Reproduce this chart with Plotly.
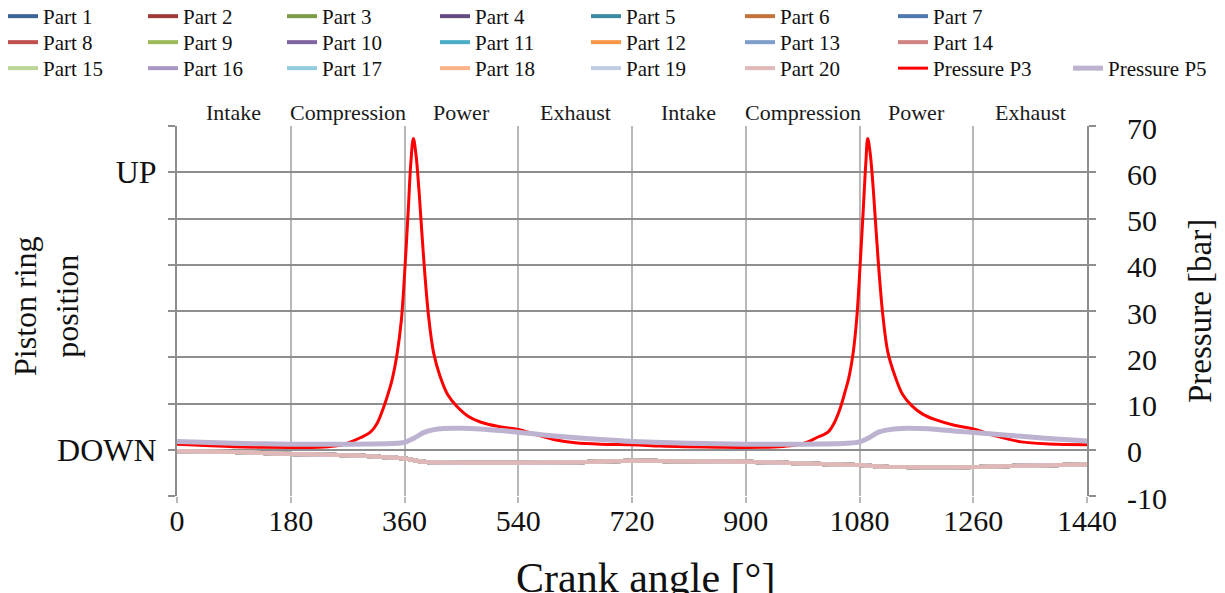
import plotly.graph_objects as go

# ---------------- data ----------------
crank_p3 = [0, 45, 90, 135, 180, 225, 250, 265, 275, 290, 306, 317, 327, 335, 341, 348, 355, 361, 366, 370, 374,
            378, 383, 390, 398, 406, 416, 428, 442, 460, 480, 510, 540, 570, 600, 630, 670, 720,
            765, 808, 855, 900, 945, 970, 985, 998, 1012, 1030, 1040, 1050, 1057, 1063, 1070, 1076, 1081, 1086, 1090, 1093,
            1097, 1102, 1109, 1117, 1125, 1136, 1148, 1163, 1180, 1200, 1230, 1260, 1295, 1336, 1380, 1440]
pressure_p3 = [1.2, 0.9, 0.65, 0.55, 0.5, 0.55, 0.8, 1.2, 1.7, 2.6, 3.8, 5.8, 9.2, 12.5, 15.5, 20.5, 28, 40, 52, 62, 67.3,
               64, 56, 42, 29, 21, 16, 12, 9.5, 7.3, 6.0, 5.0, 4.4, 3.2, 2.1, 1.5, 1.2, 1.1,
               0.8, 0.65, 0.55, 0.5, 0.6, 0.85, 1.2, 1.7, 2.6, 3.8, 5.8, 9.2, 12.5, 15.5, 21, 29, 40, 52, 62, 67.3,
               64, 56, 42, 29, 21, 16, 12, 9.5, 7.7, 6.5, 5.3, 4.5, 3.0, 1.7, 1.25, 1.1]

crank_p5 = [0, 90, 180, 270, 340, 360, 375, 390, 405, 422, 450, 480, 517, 540, 580, 623, 670, 720,
            810, 900, 990, 1060, 1080, 1095, 1110, 1125, 1146, 1175, 1204, 1235, 1260, 1300, 1336, 1390, 1440]
pressure_p5 = [1.8, 1.4, 1.2, 1.2, 1.35, 1.6, 2.5, 3.7, 4.3, 4.6, 4.65, 4.5, 4.1, 3.8, 3.2, 2.7, 2.2, 1.8,
               1.4, 1.2, 1.2, 1.4, 1.7, 2.6, 3.8, 4.3, 4.6, 4.6, 4.4, 4.0, 3.75, 3.3, 2.9, 2.3, 1.9]

crank_ring = [0, 90, 180, 270, 330, 360, 390, 430, 480, 540, 620, 720, 810, 900, 960, 1020, 1080,
              1110, 1150, 1260, 1336, 1440]
ring_position = [-0.3, -0.5, -0.9, -1.2, -1.6, -1.9, -2.6, -2.75, -2.8, -2.8, -2.7, -2.4, -2.5, -2.6,
                 -2.8, -3.1, -3.3, -3.6, -3.75, -3.75, -3.45, -3.2]

part_names = ["Part %d" % i for i in range(1, 21)]
part_colors = ["#3D6594", "#9E3B39", "#7D9A47", "#634D80", "#3C8A9E", "#C2733A", "#4E78AE",
               "#C0504D", "#9BBB59", "#8064A2", "#4BACC6", "#F79646", "#7F9FCB", "#CF8483",
               "#BCD495", "#A998C6", "#93CDDD", "#FAB387", "#BFCCE2", "#E0B8B8"]

phase_angles = [90, 270, 450, 630, 810, 990, 1170, 1350]
phase_labels = ["Intake", "Compression", "Power", "Exhaust", "Intake", "Compression", "Power", "Exhaust"]

x_ticks = [0, 180, 360, 540, 720, 900, 1080, 1260, 1440]
p_ticks = [-10, 0, 10, 20, 30, 40, 50, 60, 70]
p_ticktext = ["-10", "0", "10", "20", "30", "40", "50", "60", "70"]
ring_ticktext = ["", "DOWN", "", "", "", "", "", "UP", ""]

# ---------------- layout helpers ----------------
W, H = 1225, 593
L_PX, R_PX, T_PX, B_PX = 177, 1087, 126, 496
PW, PH = R_PX - L_PX, B_PX - T_PX


def px_x(px):
    return (px - L_PX) / PW


def px_y(py):
    return (B_PX - py) / PH


FONT = "Liberation Serif"
legend_line_start = [10, 150, 289, 442, 593, 747, 900, 1075]
row_center = [17, 43, 69]
LEG_FS = 21
LEG_OFFSET = 21

fig = go.Figure()
legends = {}
leg_idx = [0]


def make_legend(row, col):
    leg_idx[0] += 1
    key = "legend" if leg_idx[0] == 1 else "legend%d" % leg_idx[0]
    legends[key] = dict(
        x=px_x(legend_line_start[col] - 7), xanchor="left",
        y=px_y(row_center[row] - LEG_OFFSET), yanchor="top", orientation="v",
        font=dict(family=FONT, size=LEG_FS, color="#111"),
        bgcolor="rgba(0,0,0,0)", borderwidth=0, tracegroupgap=0, itemwidth=30,
    )
    return key


for i, (name, col) in enumerate(zip(part_names, part_colors)):
    lg = make_legend(i // 7, i % 7)
    fig.add_trace(go.Scatter(x=crank_ring, y=ring_position, name=name, mode="lines",
                             line=dict(color=col, width=4, shape="spline", smoothing=0.8),
                             legend=lg, yaxis="y", hoverinfo="skip"))

fig.add_trace(go.Scatter(x=crank_p3, y=pressure_p3, name="Pressure P3", mode="lines",
                         line=dict(color="#FF0000", width=3, shape="spline", smoothing=1.0),
                         legend=make_legend(2, 6), yaxis="y2"))
fig.add_trace(go.Scatter(x=crank_p5, y=pressure_p5, name="Pressure P5", mode="lines",
                         line=dict(color="#BDB3D1", width=5, shape="spline", smoothing=0.8),
                         legend=make_legend(2, 7), yaxis="y2"))

annotations = []
for a, t in zip(phase_angles, phase_labels):
    annotations.append(dict(x=a, xref="x", y=px_y(113), yref="paper", text=t, showarrow=False,
                            font=dict(family=FONT, size=22, color="#1a1a1a"),
                            xanchor="center", yanchor="middle"))
# right-hand pressure tick labels (left aligned, as in the reference)
for v, t in zip(p_ticks, p_ticktext):
    annotations.append(dict(x=px_x(1125), xref="paper", y=v, yref="y2", text=t, showarrow=False,
                            font=dict(family=FONT, size=30, color="#111"),
                            xanchor="left", yanchor="middle", yshift=-2))
annotations.append(dict(x=px_x(46), xref="paper", y=px_y(306), yref="paper",
                        text="Piston ring<br>position", showarrow=False, textangle=-90,
                        font=dict(family=FONT, size=32, color="#111"),
                        xanchor="center", yanchor="middle"))
annotations.append(dict(x=px_x(1200), xref="paper", y=px_y(311), yref="paper",
                        text="Pressure [bar]", showarrow=False, textangle=-90,
                        font=dict(family=FONT, size=33, color="#111"),
                        xanchor="center", yanchor="middle"))
annotations.append(dict(x=px_x(645), xref="paper", y=px_y(578), yref="paper",
                        text="Crank angle [°]", showarrow=False,
                        font=dict(family=FONT, size=42, color="#111"),
                        xanchor="center", yanchor="middle"))

fig.update_layout(
    width=W, height=H,
    margin=dict(l=L_PX, r=W - R_PX, t=T_PX, b=H - B_PX, autoexpand=False),
    paper_bgcolor="white", plot_bgcolor="white",
    showlegend=True,
    annotations=annotations,
    xaxis=dict(range=[0, 1440], tickvals=x_ticks, ticktext=[str(v) for v in x_ticks],
               showgrid=True, gridcolor="#B8B8B8", gridwidth=2, zeroline=False,
               ticks="outside", ticklen=6, tickwidth=2, tickcolor="#B8B8B8",
               showline=False, ticklabelstandoff=-8,
               tickfont=dict(family=FONT, size=30, color="#111")),
    yaxis=dict(range=[-10, 70], tickvals=p_ticks, ticktext=ring_ticktext,
               showgrid=True, gridcolor="#8E8E8E", gridwidth=2, zeroline=False,
               ticks="outside", ticklen=7, tickwidth=2, tickcolor="#8E8E8E",
               showline=True, linecolor="#8E8E8E", linewidth=2, ticklabelstandoff=5,
               tickfont=dict(family=FONT, size=32, color="#111")),
    yaxis2=dict(range=[-10, 70], tickvals=p_ticks, overlaying="y", side="right",
                showgrid=False, zeroline=False, showticklabels=False,
                ticks="outside", ticklen=7, tickwidth=2, tickcolor="#8E8E8E",
                showline=True, linecolor="#8E8E8E", linewidth=2),
    **legends,
)

fig.write_html("out.html")
